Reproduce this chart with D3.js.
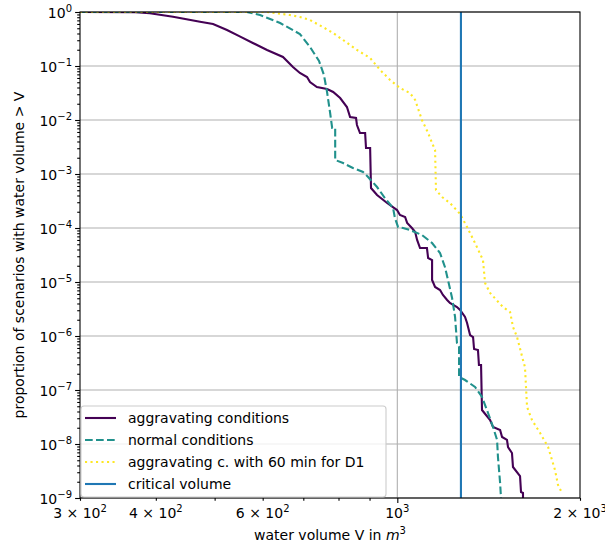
<!DOCTYPE html>
<html>
<head>
<meta charset="utf-8">
<script src="https://cdn.jsdelivr.net/npm/d3@7"></script>
<style>
  body { margin: 0; background: #fff; }
  text { font-family: "DejaVu Sans", sans-serif; }
</style>
</head>
<body>
<svg></svg>
<script>
// aggravating conditions
const aggVolume = [300, 370, 391, 427, 473, 497, 524, 551, 578, 610, 648, 673, 691, 710, 718, 737, 766, 784, 805, 826, 836, 855, 858, 868, 885, 888, 902, 905, 926, 962, 999, 1010, 1030, 1038, 1057, 1070, 1078, 1090, 1119, 1124, 1141, 1141, 1154, 1176, 1189, 1208, 1221, 1254, 1269, 1293, 1303, 1318, 1333, 1338, 1358, 1363, 1374, 1379, 1422, 1438, 1477, 1488, 1516, 1522, 1545, 1551, 1593, 1599, 1611, 1611];
const aggProb = [1, 0.987, 0.946, 0.818, 0.661, 0.6, 0.464, 0.349, 0.267, 0.198, 0.147, 0.0958, 0.0742, 0.0626, 0.0505, 0.0408, 0.0375, 0.033, 0.0255, 0.0174, 0.01136, 0.01089, 0.00808, 0.00574, 0.00574, 0.00303, 0.00303, 5.5e-4, 4.08e-4, 2.9e-4, 2.15e-4, 1.74e-4, 1.6e-4, 1.24e-4, 1e-4, 8.43e-5, 6.0e-5, 4.26e-5, 4.26e-5, 2.78e-5, 2.55e-5, 1.09e-5, 8.08e-6, 7.11e-6, 5.74e-6, 4.64e-6, 4.08e-6, 3.44e-6, 3.03e-6, 2.25e-6, 1.74e-6, 1.04e-6, 9.58e-7, 5.74e-7, 5.5e-7, 2.9e-7, 2.9e-7, 4.26e-8, 2.78e-8, 2.06e-8, 1.82e-8, 1.35e-8, 1.19e-8, 8.8e-9, 6.81e-9, 3.75e-9, 2.55e-9, 1.29e-9, 1.24e-9, 1e-9];

// normal conditions
const normVolume = [300, 565, 594, 641, 691, 718, 743, 757, 766, 775, 781, 790, 790, 814, 845, 878, 895, 926, 954, 984, 991, 1003, 1022, 1049, 1098, 1141, 1176, 1198, 1212, 1231, 1245, 1254, 1264, 1264, 1293, 1343, 1379, 1411, 1438, 1460, 1465, 1477, 1482];
const normProb = [1, 1, 0.88, 0.626, 0.391, 0.225, 0.124, 0.0681, 0.033, 0.01348, 0.00711, 0.00711, 0.001816, 0.0016, 0.00129, 0.00109, 8.8e-4, 5.74e-4, 3.59e-4, 2.35e-4, 1.53e-4, 1.04e-4, 1e-4, 9.18e-5, 7.42e-5, 5.27e-5, 3.44e-5, 1.9e-5, 1.09e-5, 5.05e-6, 2.25e-6, 7.42e-7, 6.26e-7, 1.74e-7, 1.53e-7, 1.14e-7, 7.42e-8, 3.75e-8, 2.06e-8, 1.19e-8, 5.74e-9, 1.9e-9, 1e-9];

// aggravating c. with 60 min for D1
const d1Volume = [300, 610, 665, 691, 718, 754, 784, 814, 858, 902, 937, 973, 1010, 1049, 1070, 1098, 1124, 1141, 1154, 1158, 1185, 1221, 1269, 1303, 1343, 1384, 1395, 1422, 1493, 1534, 1551, 1575, 1611, 1623, 1636, 1667, 1719, 1772, 1819, 1840, 1868];
const d1Prob = [1, 1, 0.88, 0.808, 0.711, 0.527, 0.408, 0.303, 0.198, 0.1406, 0.0843, 0.055, 0.0391, 0.0316, 0.0235, 0.01, 0.00574, 0.00375, 0.00278, 5.05e-4, 3.75e-4, 2.9e-4, 1.82e-4, 1.04e-4, 5.27e-5, 2.55e-5, 9.58e-6, 6.26e-6, 3.44e-6, 2.78e-6, 1.47e-6, 9.58e-7, 3.59e-7, 2.67e-7, 4.84e-8, 2.78e-8, 1.6e-8, 8.8e-9, 3.3e-9, 1.74e-9, 1.24e-9];

const criticalVolume = 1273;

const xMajor = [1000];
const xMinor = [300, 400, 500, 600, 700, 800, 900, 2000];
const xLabelTicks = [300, 400, 600, 1000, 2000];
const yExponents = [0, -1, -2, -3, -4, -5, -6, -7, -8, -9];

const legendLabels = ['aggravating conditions', 'normal conditions', 'aggravating c. with 60 min for D1', 'critical volume'];

const w = 605;
const h = 547;
const margin = { top: 12, right: 25, bottom: 49, left: 80 };

const svg = d3.select('svg').attr('width', w).attr('height', h);

const x = d3.scaleLog().domain([300, 2000]).range([margin.left, w - margin.right]);
const y = d3.scaleLog().domain([1e-9, 1]).range([h - margin.bottom, margin.top]);

const yMinor = [];
yExponents.slice(0, -1).forEach(e => {
  for (let m = 2; m <= 9; m++) yMinor.push(m * Math.pow(10, e - 1));
});

// grid
svg.append('g')
  .selectAll('line')
  .data(yExponents)
  .enter()
  .append('line')
  .attr('x1', margin.left)
  .attr('x2', w - margin.right)
  .attr('y1', d => y(Math.pow(10, d)))
  .attr('y2', d => y(Math.pow(10, d)))
  .attr('stroke', '#b0b0b0')
  .attr('stroke-width', 1.1);

svg.append('g')
  .selectAll('line')
  .data(xMajor)
  .enter()
  .append('line')
  .attr('x1', d => x(d))
  .attr('x2', d => x(d))
  .attr('y1', margin.top)
  .attr('y2', h - margin.bottom)
  .attr('stroke', '#b0b0b0')
  .attr('stroke-width', 1.1);

// curves
svg.append('clipPath')
  .attr('id', 'clip')
  .append('rect')
  .attr('x', margin.left)
  .attr('y', margin.top)
  .attr('width', w - margin.left - margin.right)
  .attr('height', h - margin.top - margin.bottom);

const line = d3.line().x(d => x(d[0])).y(d => y(d[1]));

const series = [
  { vol: aggVolume, prob: aggProb, color: '#440154', dash: null },
  { vol: normVolume, prob: normProb, color: '#21918c', dash: '7.7,3.3' },
  { vol: d1Volume, prob: d1Prob, color: '#fde725', dash: '2.1,3.4' }
];

const plot = svg.append('g').attr('clip-path', 'url(#clip)');

series.forEach(s => {
  plot.append('path')
    .attr('d', line(s.vol.map((v, i) => [v, s.prob[i]])))
    .attr('fill', 'none')
    .attr('stroke', s.color)
    .attr('stroke-width', 2.1)
    .attr('stroke-dasharray', s.dash);
});

plot.append('line')
  .attr('x1', x(criticalVolume))
  .attr('x2', x(criticalVolume))
  .attr('y1', margin.top)
  .attr('y2', h - margin.bottom)
  .attr('stroke', '#1f77b4')
  .attr('stroke-width', 2.1);

// axes
const xAxisMinor = d3.axisBottom(x).tickValues(xMinor).tickSize(2.8).tickFormat('');
const xAxisMajor = d3.axisBottom(x).tickValues(xMajor).tickSize(4.9).tickFormat('');
const yAxisMinor = d3.axisLeft(y).tickValues(yMinor).tickSize(2.8).tickFormat('');
const yAxisMajor = d3.axisLeft(y).tickValues(yExponents.map(e => Math.pow(10, e))).tickSize(4.9).tickFormat('');

[xAxisMinor, xAxisMajor].forEach(a => {
  svg.append('g')
    .attr('transform', `translate(0,${h - margin.bottom})`)
    .call(a)
    .call(g => g.select('.domain').remove())
    .call(g => g.selectAll('line').attr('stroke', '#000').attr('stroke-width', 1.1));
});
[yAxisMinor, yAxisMajor].forEach(a => {
  svg.append('g')
    .attr('transform', `translate(${margin.left},0)`)
    .call(a)
    .call(g => g.select('.domain').remove())
    .call(g => g.selectAll('line').attr('stroke', '#000').attr('stroke-width', 1.1));
});

// frame
svg.append('rect')
  .attr('x', margin.left)
  .attr('y', margin.top)
  .attr('width', w - margin.left - margin.right)
  .attr('height', h - margin.top - margin.bottom)
  .attr('fill', 'none')
  .attr('stroke', '#000')
  .attr('stroke-width', 1.1);

// tick labels
const yLab = svg.append('g')
  .selectAll('text')
  .data(yExponents)
  .enter()
  .append('text')
  .attr('x', margin.left - 8)
  .attr('y', d => y(Math.pow(10, d)) + 6)
  .attr('text-anchor', 'end')
  .style('font-size', '14px')
  .attr('fill', '#000');
yLab.append('tspan').text('10');
yLab.append('tspan').attr('dy', -6).style('font-size', '10px').text(d => (d < 0 ? '\u2212' + -d : d));

const xLab = svg.append('g')
  .selectAll('text')
  .data(xLabelTicks)
  .enter()
  .append('text')
  .attr('x', d => x(d))
  .attr('y', h - margin.bottom + 20)
  .attr('text-anchor', 'middle')
  .style('font-size', '14px')
  .attr('fill', '#000');
xLab.append('tspan').text(d => {
  const e = Math.floor(Math.log10(d) + 1e-9);
  const m = Math.round(d / Math.pow(10, e));
  return m === 1 ? '10' : m + ' \u00d7 10';
});
xLab.append('tspan').attr('dy', -6).style('font-size', '10px').text(d => Math.floor(Math.log10(d) + 1e-9));

// axis labels
const xTitle = svg.append('text')
  .attr('x', (margin.left + w - margin.right) / 2)
  .attr('y', h - 7)
  .attr('text-anchor', 'middle')
  .style('font-size', '14px');
xTitle.append('tspan').text('water volume V in ');
xTitle.append('tspan').style('font-style', 'italic').text('m');
xTitle.append('tspan').attr('dy', -6).style('font-size', '10px').text('3');

svg.append('text')
  .attr('transform', `translate(24,${(margin.top + h - margin.bottom) / 2}) rotate(-90)`)
  .attr('text-anchor', 'middle')
  .style('font-size', '14px')
  .text('proportion of scenarios with water volume > V');

// legend
const legendStyles = [
  { color: '#440154', dash: null },
  { color: '#21918c', dash: '7.7,3.3' },
  { color: '#fde725', dash: '2.1,3.4' },
  { color: '#1f77b4', dash: null }
];

const legend = svg.append('g');
legend.append('rect')
  .attr('x', 81)
  .attr('y', 406)
  .attr('width', 305)
  .attr('height', 91)
  .attr('rx', 3)
  .attr('fill', '#fff')
  .attr('fill-opacity', 0.8)
  .attr('stroke', '#cccccc')
  .attr('stroke-width', 1.1);

const rows = legend.selectAll('g.row')
  .data(legendLabels)
  .enter()
  .append('g')
  .attr('class', 'row')
  .attr('transform', (d, i) => `translate(0,${418 + i * 22})`);

rows.append('line')
  .attr('x1', 85)
  .attr('x2', 116)
  .attr('stroke', (d, i) => legendStyles[i].color)
  .attr('stroke-width', 2.1)
  .attr('stroke-dasharray', (d, i) => legendStyles[i].dash);

rows.append('text')
  .attr('x', 128)
  .attr('y', 5)
  .style('font-size', '14px')
  .text(d => d);
</script>
</body>
</html>
